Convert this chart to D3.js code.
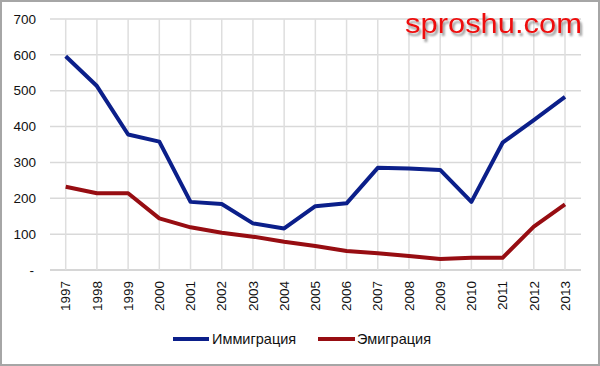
<!DOCTYPE html>
<html><head><meta charset="utf-8">
<script src="https://cdn.jsdelivr.net/npm/d3@7"></script>
<style>body{margin:0;background:#fff}svg{display:block}</style>
</head><body><div id="chart"></div>
<script>
const years = ["1997","1998","1999","2000","2001","2002","2003","2004","2005","2006","2007","2008","2009","2010","2011","2012","2013"];
const immigration = [596,513,378,358,190,184,130,116,178,186,285,283,279,190,355,418,483];
const emigration = [232,214,214,144,119,104,93,79,67,53,47,39,31,34,34,121,183];
const yTicks = [0,100,200,300,400,500,600,700];
const seriesNames = ["Иммиграция","Эмиграция"];
const colors = ["#0b1f8a","#970d12"];

const W=600,H=366;
const svg=d3.select("#chart").append("svg").attr("width",W).attr("height",H);
const defs=svg.append("defs");
const f=defs.append("filter").attr("id","shadow").attr("x","-10%").attr("y","-30%").attr("width","130%").attr("height","170%");
f.append("feDropShadow").attr("dx",2).attr("dy",3).attr("stdDeviation",1.2).attr("flood-color","#555").attr("flood-opacity",0.6);

svg.append("rect").attr("x",1).attr("y",1).attr("width",W-2).attr("height",H-2).attr("fill","#fff").attr("stroke","#a6a6a6").attr("stroke-width",2);

const x=d3.scalePoint().domain(years).range([65.7,565]);
const y=d3.scaleLinear().domain([0,700]).range([270,19]);
const left=50, right=581;
const font="'Liberation Sans', Arial, sans-serif";

svg.append("g").selectAll("line").data(yTicks).join("line")
  .attr("x1",left).attr("x2",right).attr("y1",d=>y(d)).attr("y2",d=>y(d))
  .attr("stroke",d=>d===0?"#c8c8c8":"#d9d9d9").attr("stroke-width",1.5);
svg.append("g").selectAll("line").data(years).join("line")
  .attr("x1",d=>x(d)).attr("x2",d=>x(d)).attr("y1",y(700)).attr("y2",y(0))
  .attr("stroke","#dedede").attr("stroke-width",1.5);

svg.append("g").selectAll("text").data(yTicks).join("text")
  .attr("x",d=>d===0?34:36).attr("y",d=>y(d)).attr("dy","0.35em")
  .attr("text-anchor","end").attr("font-family",font).attr("font-size",13.5).attr("fill","#111")
  .text(d=>d===0?"-":d);

svg.append("g").selectAll("text").data(years).join("text")
  .attr("transform",d=>`translate(${x(d)},281) rotate(-90)`)
  .attr("text-anchor","end").attr("dy","0.35em")
  .attr("font-family",font).attr("font-size",13.5).attr("fill","#111")
  .text(d=>d);

const line=d3.line().x((d,i)=>x(years[i])).y(d=>y(d));
[immigration,emigration].forEach((s,k)=>{
  svg.append("path").datum(s).attr("d",line).attr("fill","none")
    .attr("stroke",colors[k]).attr("stroke-width",4).attr("stroke-linejoin","round");
});

const leg=[{x1:173,x2:209,tx:212},{x1:318,x2:355,tx:357}];
leg.forEach((l,k)=>{
  svg.append("line").attr("x1",l.x1).attr("x2",l.x2).attr("y1",339).attr("y2",339)
    .attr("stroke",colors[k]).attr("stroke-width",4);
  svg.append("text").attr("x",l.tx).attr("y",339).attr("dy","0.35em")
    .attr("font-family",font).attr("font-size",14.5).attr("fill","#111").text(seriesNames[k]);
});

svg.append("text").attr("x",405).attr("y",33).attr("font-family",font).attr("font-size",28)
  .attr("fill","#ee1111").attr("filter","url(#shadow)")
  .attr("textLength",177).attr("lengthAdjust","spacingAndGlyphs").text("sproshu.com");
</script></body></html>
